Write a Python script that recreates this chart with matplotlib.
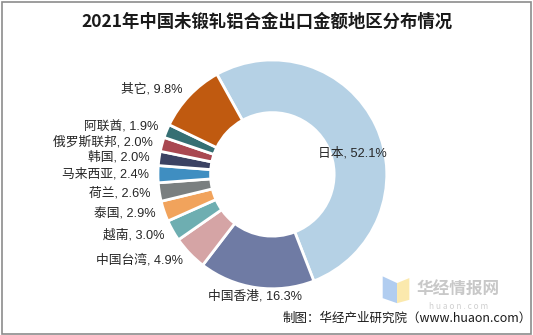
import numpy as np
import matplotlib.pyplot as plt
from matplotlib.patches import Rectangle, Polygon

plt.rcParams['font.family'] = ['Noto Sans CJK SC', 'DejaVu Sans']
label_font = ['Liberation Sans', 'Noto Sans CJK SC']

# 2021年未锻轧铝合金出口金额地区分布（%）
regions = ['日本', '中国香港', '中国台湾', '越南', '泰国', '荷兰',
           '马来西亚', '韩国', '俄罗斯联邦', '阿联酋', '其它']
shares = [52.1, 16.3, 4.9, 3.0, 2.9, 2.6, 2.4, 2.0, 2.0, 1.9, 9.8]
colors = ['#b5d1e5', '#6f7ba4', '#d5a4a5', '#6eaeb1', '#f1a35c', '#7a7f80',
          '#3f8ec1', '#3b4263', '#a94851', '#356f73', '#c05a10']

fig = plt.figure(figsize=(5.33, 3.35), dpi=100)
fig.patch.set_facecolor('white')

# outer frame
fig.add_artist(Rectangle((0.004, 0.004), 0.992, 0.99, transform=fig.transFigure,
                         fill=False, edgecolor='#8c8c8c', linewidth=1.2))

fig.text(0.5, 0.935, '2021年中国未锻轧铝合金出口金额地区分布情况',
         ha='center', va='center', fontsize=12.5, fontweight='bold', color='#1a1a1a')

ax = fig.add_axes([0.296, 0.138, 0.43, 0.683])
ax.set_aspect('equal')
start = 119
wedges, _ = ax.pie(shares, colors=colors, startangle=start, counterclock=False,
                   wedgeprops=dict(width=0.46, edgecolor='white', linewidth=2))
ax.set_xlim(-1, 1)
ax.set_ylim(-1, 1)
ax.axis('off')

for i, w in enumerate(wedges):
    mid = np.deg2rad((w.theta1 + w.theta2) / 2)
    label = f'{regions[i]}, {shares[i]}%'
    kw = dict(fontsize=9.2, color='#262626', family=label_font, va='center')
    if i == 0:
        a = mid - np.deg2rad(10)
        ax.text(0.72 * np.cos(a), 0.72 * np.sin(a), label, ha='center', **kw)
    elif i == 1:
        ax.text(1.08 * np.cos(mid), 1.08 * np.sin(mid), label, ha='center', **kw)
    else:
        ax.text(1.08 * np.cos(mid), 1.08 * np.sin(mid), label, ha='right', **kw)

# watermark
fig.add_artist(Polygon([[0.718, 0.175], [0.745, 0.155], [0.745, 0.095], [0.718, 0.11]],
                       closed=True, transform=fig.transFigure, facecolor='#a9c8ef',
                       edgecolor='none', alpha=0.9))
fig.add_artist(Polygon([[0.745, 0.155], [0.768, 0.17], [0.768, 0.105], [0.745, 0.095]],
                       closed=True, transform=fig.transFigure, facecolor='#fbe7a4',
                       edgecolor='none', alpha=0.9))
fig.text(0.86, 0.135, '华经情报网', ha='center', va='center', fontsize=12,
         fontweight='bold', color='#c8c8c8')
fig.text(0.86, 0.085, 'h u a o n . c o m', ha='center', va='center', fontsize=6,
         color='#d0d0d0')

fig.text(0.53, 0.05, '制图：华经产业研究院（www.huaon.com）', ha='left', va='center',
         fontsize=9, color='#1a1a1a')

fig.savefig('out.png', dpi=100, facecolor='white')
